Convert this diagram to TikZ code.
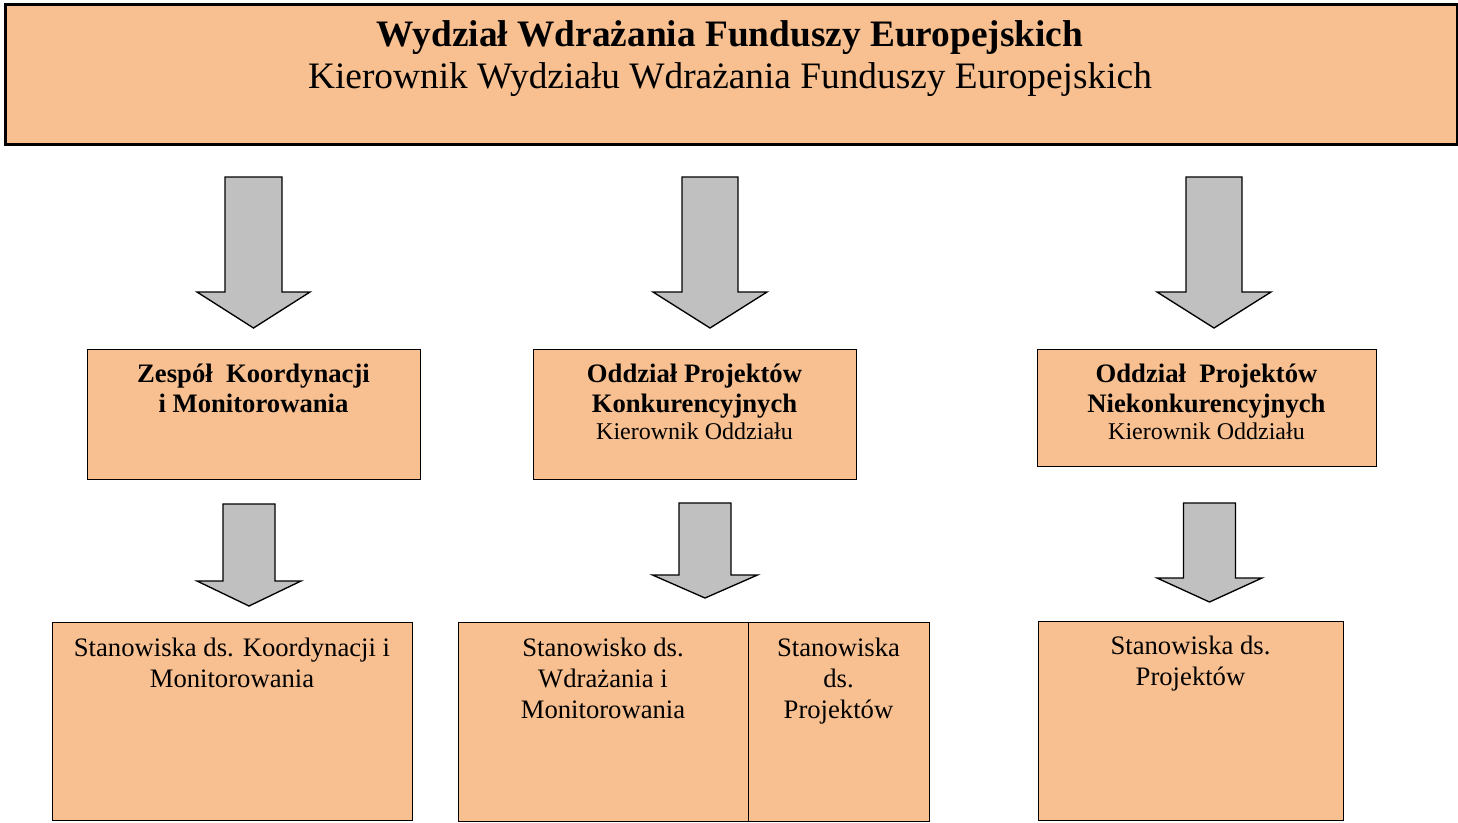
\documentclass[tikz,border=0pt]{standalone}
\usepackage{fontspec}
\setmainfont{Liberation Serif}
\usetikzlibrary{calc}

\definecolor{pomarancz}{RGB}{248,192,144}
\definecolor{szary}{RGB}{192,192,192}

% blokowa strzalka: x, gora, szyja, grot, pol trzonu, pol grotu
\newcommand{\blokstrz}[6]{%
  \draw[strz] (#1-#5,#2) -- (#1+#5,#2) -- (#1+#5,#3) -- (#1+#6,#3)
    -- (#1,#4) -- (#1-#6,#3) -- (#1-#5,#3) -- cycle;}

\begin{document}
\begin{tikzpicture}[x=0.75pt,y=-0.75pt]
    \tikzset{
      box/.style={draw=black, fill=pomarancz, line width=1.1pt, inner sep=0pt, anchor=north west},
      rozm/.style 2 args={minimum width=#1*0.75pt, minimum height=#2*0.75pt},
      strz/.style={draw=black, fill=szary, line width=1pt, line join=miter},
      napis/.style={anchor=base, align=center, inner sep=0pt},
      duzy/.style={font=\fontsize{28}{31.5}\selectfont},
      sredni/.style={font=\fontsize{20}{22.5}\selectfont\bfseries},
      dolny/.style={font=\fontsize{20}{23.25}\selectfont},
    }
    \useasboundingbox (0,0) rectangle (1458,822);
    % wydzial
    \node [box, rozm={1452}{140}, line width=2pt] (wwfe) at (4,3) {};
    \node [napis, duzy] (wwfe-t) at (730,88)
      {\textbf{Wydział Wdrażania Funduszy Europejskich}\\[-0.5pt]Kierownik Wydziału Wdrażania Funduszy Europejskich};
    % strzalki gorne
    \blokstrz{253.5}{177}{292}{328}{28.5}{56.5}
    \blokstrz{710}{177}{292}{328}{28}{57}
    \blokstrz{1214}{177}{292}{328}{28}{57}
    % zespoly i oddzialy
    \node [box, rozm={333}{130}] (zkm) at (87,349) {};
    \node [napis, sredni] (zkm-t) at (253.5,412) {Zespół\ \ Koordynacji\\i Monitorowania};
    \node [box, rozm={323}{130}] (opk) at (533,349) {};
    \node [napis, sredni] (opk-t) at (694.5,439)
      {Oddział Projektów\\Konkurencyjnych\\[-2.25pt]{\mdseries\fontsize{18}{20}\selectfont Kierownik Oddziału}};
    \node [box, rozm={339}{117}] (opn) at (1037,349) {};
    \node [napis, sredni] (opn-t) at (1206.5,439)
      {Oddział\ \ Projektów\\Niekonkurencyjnych\\[-2.25pt]{\mdseries\fontsize{18}{20}\selectfont Kierownik Oddziału}};
    % strzalki dolne
    \blokstrz{249}{504}{581}{606}{26}{52}
    \blokstrz{705}{503}{575}{598}{26}{52.5}
    \blokstrz{1209.5}{503}{578}{602}{26}{52.5}
    % stanowiska
    \node [box, rozm={360}{198}] (skm) at (52,622) {};
    \node [napis, dolny] (skm-t) at (232,687) {Stanowiska ds. Koordynacji i\\Monitorowania};
    \node [box, rozm={290}{199}] (swm) at (458,622) {};
    \node [napis, dolny] (swm-t) at (603,718) {Stanowisko ds.\\Wdrażania i\\Monitorowania};
    \node [box, rozm={181}{199}] (sdp) at (748,622) {};
    \node [napis, dolny] (sdp-t) at (838.5,718) {Stanowiska\\ds.\\Projektów};
    \node [box, rozm={305}{199}] (sp) at (1038,621) {};
    \node [napis, dolny] (sp-t) at (1190.5,685) {Stanowiska ds.\\Projektów};
\end{tikzpicture}
\end{document}
